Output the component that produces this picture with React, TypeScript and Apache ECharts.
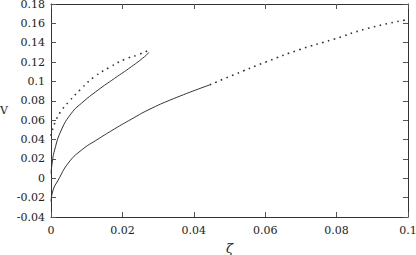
import React, { useEffect, useRef } from "react";
import * as echarts from "echarts";

const upperSolid: [number, number][] = [
  [0, 0.005], [0.0003, 0.015], [0.001, 0.029], [0.0029, 0.0499], [0.0057, 0.0671],
  [0.0085, 0.0774], [0.0132, 0.0912], [0.0178, 0.1032], [0.0225, 0.1152], [0.0262, 0.1256], [0.0274, 0.13],
];
const upperDotted: [number, number][] = [
  [0, 0.044], [0.0002, 0.049], [0.0006, 0.0516], [0.0012, 0.0584], [0.0027, 0.0688],
  [0.005, 0.0791], [0.0083, 0.0919], [0.0122, 0.105], [0.0164, 0.1146], [0.0209, 0.1232],
  [0.0242, 0.1273], [0.027, 0.1315],
];
const lowerSolid: [number, number][] = [
  [0, -0.024], [0.0006, -0.012], [0.002, -0.002], [0.0048, 0.0155], [0.0085, 0.029],
  [0.0132, 0.0405], [0.0178, 0.051], [0.0225, 0.061], [0.0272, 0.0705], [0.0343, 0.0822],
  [0.0445, 0.0965],
];
const lowerDotted: [number, number][] = [
  [0.0445, 0.0965], [0.0511, 0.1067], [0.0604, 0.1204], [0.0697, 0.133], [0.0791, 0.1435],
  [0.0884, 0.1545], [0.0996, 0.1637],
];

const font = "DejaVu Serif";
const ink = "#222";

export default function App() {
  const ref = useRef<HTMLDivElement>(null);
  useEffect(() => {
    const chart = echarts.init(ref.current!, null, { renderer: "svg" });
    const axisLine = { show: true, onZero: false, lineStyle: { color: "#333", width: 1 } };
    const tick = { show: true, inside: true, length: 5, lineStyle: { color: "#555", width: 1 } };
    const lbl = { color: ink, fontFamily: font, fontSize: 11, lineHeight: 10 };
    const line = (data: [number, number][], dotted: boolean) => ({
      type: "line", data, showSymbol: false, smooth: 0.5, xAxisIndex: 0, yAxisIndex: 0,
      lineStyle: dotted
        ? { color: "#333", width: 1.6, type: [1.6, 4.4] }
        : { color: "#333", width: 1 },
    });
    chart.setOption({
      animation: false,
      textStyle: { fontFamily: font },
      grid: { left: 51, right: 8, top: 4, bottom: 38, containLabel: false, outerBoundsMode: "none" },
      xAxis: [
        {
          type: "value", min: 0, max: 0.1, interval: 0.02, position: "bottom",
          axisLine, axisTick: tick, splitLine: { show: false },
          axisLabel: { ...lbl, margin: 8 },
          name: "ζ", nameLocation: "middle", nameGap: 25,
          nameTextStyle: { ...lbl, fontStyle: "italic", fontSize: 13, lineHeight: 13 },
        },
        {
          type: "value", min: 0, max: 0.1, interval: 0.02, position: "top",
          axisLine, axisTick: tick, splitLine: { show: false }, axisLabel: { show: false },
        },
      ],
      yAxis: [
        {
          type: "value", min: -0.04, max: 0.18, interval: 0.02, position: "left",
          axisLine, axisTick: tick, splitLine: { show: false },
          axisLabel: { ...lbl, margin: 6 },
          name: "V", nameLocation: "middle", nameGap: 43, nameRotate: 0,
          nameTextStyle: { ...lbl },
        },
        {
          type: "value", min: -0.04, max: 0.18, interval: 0.02, position: "right",
          axisLine, axisTick: tick, splitLine: { show: false }, axisLabel: { show: false },
        },
      ],
      series: [
        line(upperSolid, false),
        line(upperDotted, true),
        line(lowerSolid, false),
        line(lowerDotted, true),
      ],
    });
    return () => chart.dispose();
  }, []);
  return <div ref={ref} style={{ position: "fixed", left: 0, top: 0, width: 416, height: 255, background: "#fff" }} />;
}
